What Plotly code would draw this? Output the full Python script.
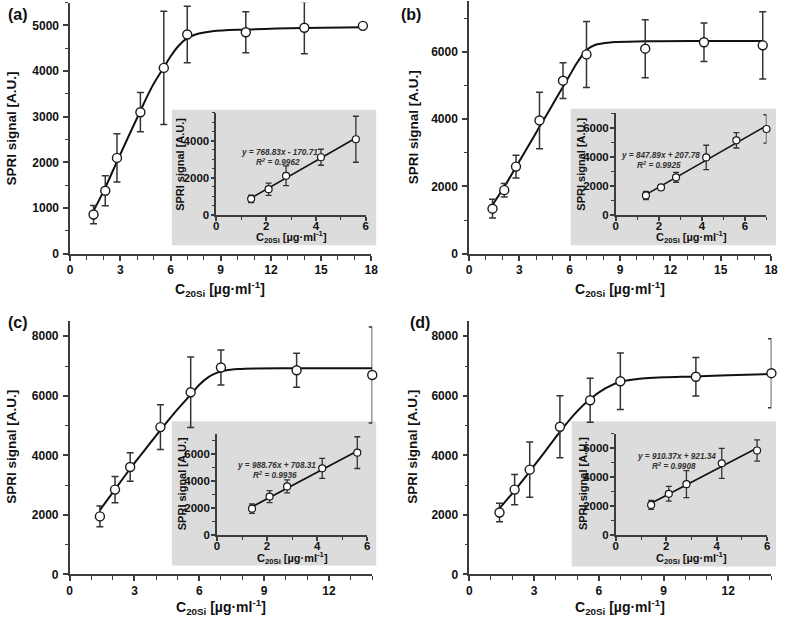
import plotly.graph_objects as go

# ---------------- data ----------------
a_x = [1.4, 2.1, 2.8, 4.2, 5.6, 7.0, 10.5, 14.0, 17.5]
a_y = [860, 1380, 2100, 3100, 4070, 4800, 4850, 4950, 4990]
a_err = [200, 330, 530, 430, 1240, 620, 450, 570, 0]
a_curve_x = [1.4, 2.1, 2.8, 3.5, 4.2, 4.9, 5.6, 6.0, 6.5, 7.0, 7.5, 8.5, 10.5, 14.0, 17.5]
a_curve_y = [940, 1450, 2020, 2580, 3130, 3660, 4080, 4320, 4560, 4720, 4800, 4870, 4910, 4945, 4960]
a_fit_x = [1.4, 5.6]
a_fit_y = [905.6, 4134.7]
a_eq = ["y = 768.83x - 170.71", "R<sup>2</sup> = 0.9962"]
a_n_inset = 5

b_x = [1.4, 2.1, 2.8, 4.2, 5.6, 7.0, 10.5, 14.0, 17.5]
b_y = [1340, 1890, 2590, 3960, 5140, 5920, 6090, 6280, 6190]
b_err = [280, 200, 340, 840, 530, 980, 860, 570, 1000]
b_curve_x = [1.4, 2.1, 2.8, 3.5, 4.2, 4.9, 5.6, 6.0, 6.4, 6.7, 7.0, 7.5, 8.5, 10.5, 14.0, 17.5]
b_curve_y = [1450, 1990, 2580, 3170, 3770, 4360, 4960, 5300, 5640, 5860, 6050, 6200, 6280, 6310, 6320, 6320]
b_fit_x = [1.4, 7.0]
b_fit_y = [1394.8, 6143.0]
b_eq = ["y = 847.89x + 207.78", "R<sup>2</sup> = 0.9925"]
b_n_inset = 6

c_x = [1.4, 2.1, 2.8, 4.2, 5.6, 7.0, 10.5, 14.0]
c_y = [1950, 2850, 3610, 4950, 6120, 6950, 6860, 6700]
c_err = [350, 440, 480, 750, 1180, 590, 570, 1610]
c_curve_x = [1.4, 2.1, 2.8, 3.5, 4.2, 4.9, 5.6, 6.0, 6.4, 6.8, 7.2, 7.8, 8.6, 10.5, 14.0]
c_curve_y = [2160, 2860, 3550, 4200, 4850, 5470, 6040, 6370, 6620, 6770, 6850, 6900, 6920, 6925, 6925]
c_fit_x = [1.4, 5.6]
c_fit_y = [2092.6, 6245.4]
c_eq = ["y = 988.76x + 708.31", "R<sup>2</sup> = 0.9936"]
c_n_inset = 5

d_x = [1.4, 2.1, 2.8, 4.2, 5.6, 7.0, 10.5, 14.0]
d_y = [2080, 2850, 3520, 4960, 5850, 6490, 6640, 6760]
d_err = [310, 510, 930, 1040, 740, 950, 650, 1160]
d_curve_x = [1.4, 2.1, 2.8, 3.5, 4.2, 4.9, 5.6, 6.3, 7.0, 8.0, 9.0, 10.5, 12.0, 14.0]
d_curve_y = [2220, 2820, 3460, 4120, 4790, 5400, 5890, 6250, 6470, 6580, 6620, 6650, 6690, 6730]
d_fit_x = [1.4, 5.6]
d_fit_y = [2195.9, 6019.4]
d_eq = ["y = 910.37x + 921.34", "R<sup>2</sup> = 0.9908"]
d_n_inset = 5

panel_labels = ["(a)", "(b)", "(c)", "(d)"]
y_title = "SPRI signal [A.U.]"
x_title = "C<sub>20Si</sub> [µg·ml<sup>-1</sup>]"

# ---------------- layout helpers ----------------
W, H = 787, 625
FONT = "Liberation Sans, Arial, sans-serif"
AX = "#3c3c3c"
TXT = "#111111"


def fx(p):
    return p / W


def fy(p):
    return 1 - p / H


def axis(domain, rng, dtick, minor, anchor, size, ticklen=5, mlen=3, standoff=0):
    vals = []
    v = 0
    while v <= rng[1] + 1e-9:
        vals.append(v)
        v += dtick
    return dict(
        domain=domain, range=rng, anchor=anchor,
        tickmode="array", tickvals=vals, ticktext=[f"<b>{int(t)}</b>" for t in vals],
        showline=True, linecolor=AX, linewidth=1.5, mirror=False,
        ticks="outside", ticklen=ticklen, tickwidth=1.5, tickcolor=AX,
        minor=dict(dtick=minor, tick0=0, ticks="outside", ticklen=mlen, tickwidth=1.3, tickcolor=AX),
        showgrid=False, zeroline=False, fixedrange=True,
        tickfont=dict(family=FONT, size=size, color=TXT),
        ticklabelstandoff=standoff,
    )


panels = [
    dict(x=a_x, y=a_y, e=a_err, cx=a_curve_x, cy=a_curve_y, fx=a_fit_x, fy=a_fit_y, eq=a_eq, n=a_n_inset,
         mx=[68, 373], my=[256.7, 2.6], mxr=[0, 18], myr=[0, 5500], mydt=1000, mymin=500,
         ix=[216, 367.5], iy=[217.2, 114], ixr=[0, 6], iyr=[0, 5500], iymin=500,
         box=[171, 378, 111, 248],
         ytitle=(9, 130), xtitle=(220, 292), label=(15, 15),
         iytitle=(179, 166), ixtitle=(292, 240), eqpos=[(280, 154.5), (279, 164)]),
    dict(x=b_x, y=b_y, e=b_err, cx=b_curve_x, cy=b_curve_y, fx=b_fit_x, fy=b_fit_y, eq=b_eq, n=b_n_inset,
         mx=[472, 778], my=[256.7, 1.2], mxr=[0, 18], myr=[0, 7500], mydt=2000, mymin=1000,
         ix=[620.7, 773.3], iy=[217.3, 114.6], ixr=[0, 7], iyr=[0, 7000], iymin=1000,
         box=[575, 783, 110, 248],
         ytitle=(416, 129), xtitle=(625, 292), label=(413, 15),
         iytitle=(586, 166), ixtitle=(697, 240), eqpos=[(666, 157.5), (664, 167)]),
    dict(x=c_x, y=c_y, e=c_err, cx=c_curve_x, cy=c_curve_y, fx=c_fit_x, fy=c_fit_y, eq=c_eq, n=c_n_inset,
         mx=[67.5, 374], my=[581, 325], mxr=[0, 14], myr=[0, 8500], mydt=2000, mymin=1000,
         ix=[216.7, 369], iy=[541, 439], ixr=[0, 6], iyr=[0, 7500], iymin=1000,
         box=[171, 378, 426, 572],
         ytitle=(9, 452), xtitle=(221, 614), label=(15, 326),
         iytitle=(181, 489), ixtitle=(293, 564), eqpos=[(277, 470.5), (275, 480)]),
    dict(x=d_x, y=d_y, e=d_err, cx=d_curve_x, cy=d_curve_y, fx=d_fit_x, fy=d_fit_y, eq=d_eq, n=d_n_inset,
         mx=[472.3, 778.3], my=[581, 325], mxr=[0, 14], myr=[0, 8500], mydt=2000, mymin=1000,
         ix=[620.7, 774], iy=[541, 438.8], ixr=[0, 6], iyr=[0, 7000], iymin=1000,
         box=[576, 783, 426, 573],
         ytitle=(415, 452), xtitle=(625, 614), label=(422, 326),
         iytitle=(587, 489), ixtitle=(697, 564), eqpos=[(682, 462), (680, 471.5)]),
]

fig = go.Figure()
layout = dict(width=W, height=H, margin=dict(l=0, r=0, t=0, b=0),
              paper_bgcolor="white", plot_bgcolor="rgba(0,0,0,0)", showlegend=False,
              shapes=[], annotations=[])


def ann(text, x, y, size, angle=0, italic=False, color=TXT):
    t = "<b>" + text + "</b>"
    if italic:
        t = "<i>" + t + "</i>"
    layout["annotations"].append(dict(
        text=t, x=fx(x), y=fy(y), xref="paper", yref="paper", showarrow=False,
        xanchor="center", yanchor="middle", textangle=angle,
        font=dict(family=FONT, size=size, color=color)))


for i, p in enumerate(panels):
    km = 2 * i + 1
    ki = 2 * i + 2
    xm, ym = ("x" if km == 1 else f"x{km}"), ("y" if km == 1 else f"y{km}")
    xi, yi = f"x{ki}", f"y{ki}"
    layout["xaxis" if km == 1 else f"xaxis{km}"] = axis([fx(p["mx"][0]), fx(p["mx"][1])], p["mxr"], 3, 1, ym, 12, 5, 4, -1)
    layout["yaxis" if km == 1 else f"yaxis{km}"] = axis([fy(p["my"][0]), fy(p["my"][1])], p["myr"], p["mydt"], p["mymin"], xm, 12, 5, 3, 2)
    layout[f"xaxis{ki}"] = axis([fx(p["ix"][0]), fx(p["ix"][1])], p["ixr"], 2, 1, yi, 11.5, 4, 3, -4)
    layout[f"yaxis{ki}"] = axis([fy(p["iy"][0]), fy(p["iy"][1])], p["iyr"], 2000, p["iymin"], xi, 11.5, 4, 3, -1)

    # main curve + points
    fig.add_trace(go.Scatter(x=p["cx"], y=p["cy"], mode="lines", xaxis=xm, yaxis=ym,
                             line=dict(color="#111111", width=2, shape="spline", smoothing=1.0),
                             hoverinfo="skip"))
    fig.add_trace(go.Scatter(x=p["x"], y=p["y"], mode="markers", xaxis=xm, yaxis=ym, cliponaxis=False,
                             error_y=dict(type="data", array=p["e"], visible=True, color="#333333",
                                          thickness=1.5, width=3.5),
                             marker=dict(symbol="circle", size=9, color="white",
                                         line=dict(color="#1a1a1a", width=1.4))))
    # inset
    n = p["n"]
    fig.add_trace(go.Scatter(x=p["fx"], y=p["fy"], mode="lines", xaxis=xi, yaxis=yi,
                             line=dict(color="#111111", width=1.6), hoverinfo="skip"))
    fig.add_trace(go.Scatter(x=p["x"][:n], y=p["y"][:n], mode="markers", xaxis=xi, yaxis=yi, cliponaxis=False,
                             error_y=dict(type="data", array=p["e"][:n], visible=True, color="#333333",
                                          thickness=1.3, width=3),
                             marker=dict(symbol="circle", size=7, color="white",
                                         line=dict(color="#1a1a1a", width=1.2))))

    b = p["box"]
    layout["shapes"].append(dict(type="rect", xref="paper", yref="paper",
                                 x0=fx(b[0]), x1=fx(b[1]), y0=fy(b[3]), y1=fy(b[2]),
                                 fillcolor="#dcdcdc", line=dict(width=0), layer="below"))

    ann(y_title, *p["ytitle"], 13.5, angle=-90)
    ann(x_title, *p["xtitle"], 14)
    ann(panel_labels[i], *p["label"], 16)
    ann(y_title, *p["iytitle"], 11, angle=-90)
    ann(x_title, *p["ixtitle"], 11)
    ann(p["eq"][0], *p["eqpos"][0], 8.2, italic=True, color="#333333")
    ann(p["eq"][1], *p["eqpos"][1], 8.2, italic=True, color="#333333")

fig.update_layout(**layout)
fig.write_html("out.html", config={"displayModeBar": False},
               post_script="document.body.style.margin='0';document.body.style.padding='0';")
